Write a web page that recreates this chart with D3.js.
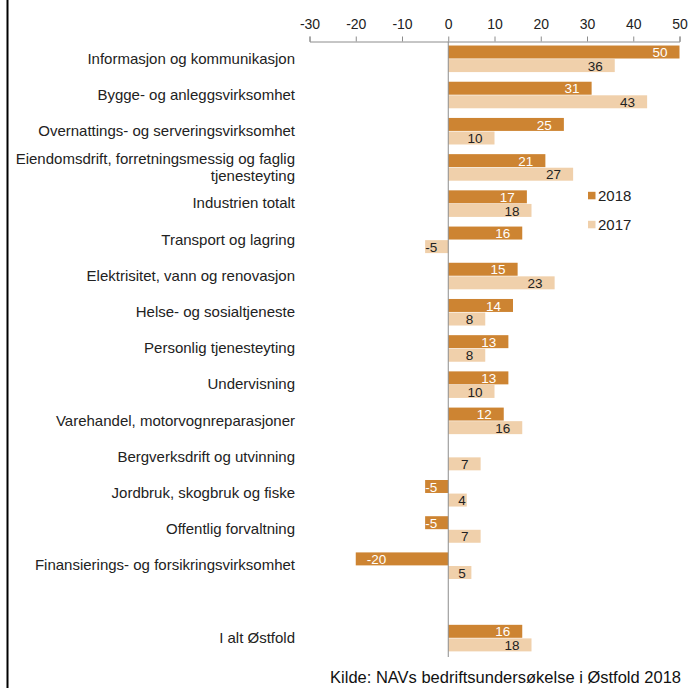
<!DOCTYPE html>
<html><head><meta charset="utf-8">
<script src="https://cdn.jsdelivr.net/npm/d3@7"></script>
<style>body{margin:0;background:#fff}svg{display:block;font-family:"Liberation Sans",Arial,sans-serif}</style>
</head><body>
<script>
const categories = [
  ["Informasjon og kommunikasjon"],
  ["Bygge- og anleggsvirksomhet"],
  ["Overnattings- og serveringsvirksomhet"],
  ["Eiendomsdrift, forretningsmessig og faglig","tjenesteyting"],
  ["Industrien totalt"],
  ["Transport og lagring"],
  ["Elektrisitet, vann og renovasjon"],
  ["Helse- og sosialtjeneste"],
  ["Personlig tjenesteyting"],
  ["Undervisning"],
  ["Varehandel, motorvognreparasjoner"],
  ["Bergverksdrift og utvinning"],
  ["Jordbruk, skogbruk og fiske"],
  ["Offentlig forvaltning"],
  ["Finansierings- og forsikringsvirksomhet"],
  [""],
  ["I alt Østfold"]
];
const values2018 = [50,31,25,21,17,16,15,14,13,13,12,null,-5,-5,-20,null,16];
const values2017 = [36,43,10,27,18,-5,23,8,8,10,16,7,4,7,5,null,18];
const seriesNames = ["2018","2017"];
const tickValues = [-30,-20,-10,0,10,20,30,40,50];
const sourceText = "Kilde: NAVs bedriftsundersøkelse i Østfold 2018";

const W=691,H=688;
const colors = {"2018":"#cd8432","2017":"#f0d0ab"};
const labelColors = {"2018":"#ffffff","2017":"#222222"};

const svg = d3.select("body").append("svg").attr("width",W).attr("height",H);

// left border line
svg.append("line").attr("x1",7.5).attr("x2",7.5).attr("y1",0).attr("y2",H)
  .attr("stroke","#000").attr("stroke-width",2);

const x = d3.scaleLinear().domain([-30,50]).range([309.5,679.5]);
const keys = categories.map((c,i)=>"k"+i);
const y = d3.scaleBand().domain(keys).range([41,656.5]).paddingInner(0.25).paddingOuter(0.125);
const sub = d3.scaleBand().domain(seriesNames).range([0,y.bandwidth()]);

// axis on top
const axis = d3.axisTop(x).tickValues(tickValues).tickSize(5).tickPadding(8).tickFormat(d3.format("d"));
const ag = svg.append("g").attr("transform","translate(0,41.5)").call(axis);
ag.select(".domain").attr("stroke","#8c8c8c");
ag.selectAll(".tick line").attr("stroke","#8c8c8c");
ag.selectAll(".tick text").attr("font-size",14).attr("fill","#222").attr("font-family","Liberation Sans, Arial, sans-serif");
ag.selectAll(".tick text").text(d=>d<0?"-"+Math.abs(d):d);

// bars
const series = [{name:"2018",vals:values2018},{name:"2017",vals:values2017}];
const measure = svg.append("text").attr("font-size",13.5).attr("visibility","hidden");
function tw(s){measure.text(s);return measure.node().getComputedTextLength();}

series.forEach(s=>{
  const g = svg.append("g");
  s.vals.forEach((v,i)=>{
    if(v===null) return;
    const y0 = y(keys[i]) + sub(s.name);
    const h = sub.bandwidth();
    const x0 = x(Math.min(0,v)), x1 = x(Math.max(0,v));
    g.append("rect").attr("x",x0).attr("y",y0).attr("width",x1-x0).attr("height",h-0.6)
      .attr("fill",colors[s.name]);
    const label = v<0?"-"+Math.abs(v):String(v);
    const w = tw(label);
    let tx, anchor;
    if(v>=0){
      tx = Math.max(x(v)-12, x(0)+w+10); anchor="end";
    } else {
      tx = Math.min(x(v)+11, x(0)-w-11); anchor="start";
    }
    g.append("text").attr("x",tx).attr("y",y0+h/2).attr("dy","0.36em")
      .attr("text-anchor",anchor).attr("font-size",13.5).attr("fill",labelColors[s.name]).text(label);
  });
});

// zero line
svg.append("line").attr("x1",x(0)).attr("x2",x(0)).attr("y1",41.5).attr("y2",657)
  .attr("stroke","#8c8c8c").attr("stroke-width",1);

// category labels
categories.forEach((lines,i)=>{
  const cy = y(keys[i]) + y.bandwidth()/2 - 1;
  const t = svg.append("text").attr("x",295).attr("text-anchor","end").attr("font-size",15).attr("fill","#222");
  const n = lines.length, lh = 17;
  lines.forEach((ln,j)=>{
    t.append("tspan").attr("x",295).attr("y",cy + (j-(n-1)/2)*lh).attr("dy","0.36em").text(ln);
  });
});

// legend
seriesNames.forEach((nm,i)=>{
  const ly = 195.5 + i*29;
  svg.append("rect").attr("x",588).attr("y",ly-3.7).attr("width",7.5).attr("height",7.5).attr("fill",colors[nm]);
  svg.append("text").attr("x",598).attr("y",ly).attr("dy","0.36em").attr("font-size",15).attr("fill","#222").text(nm);
});

// source
svg.append("text").attr("x",681).attr("y",683).attr("text-anchor","end").attr("font-size",16.5).attr("fill","#111").text(sourceText);
measure.remove();
</script>
</body></html>
